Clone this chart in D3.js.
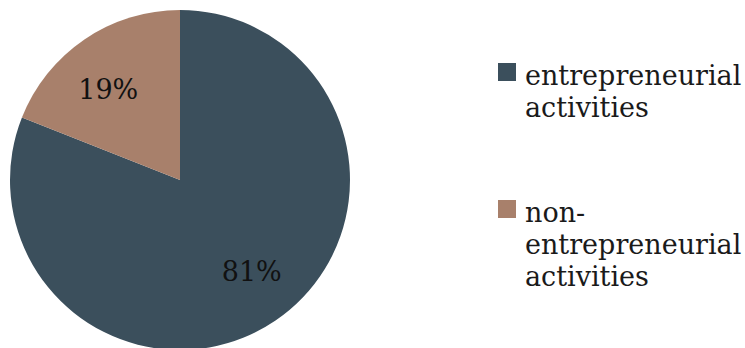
<!DOCTYPE html>
<html>
<head>
<meta charset="utf-8">
<script src="https://cdn.jsdelivr.net/npm/d3@7"></script>
<style>
  body { margin: 0; background: #fff; }
  svg { display: block; }
</style>
</head>
<body>
<div id="pie-chart"></div>
<script>
const w = 745;
const h = 348;

const categories = ["entrepreneurial activities", "non-entrepreneurial activities"];
const shares = [81, 19];
const labels = ["81%", "19%"];
// legend text broken over lines like the original
const legendLines = [
  ["entrepreneurial", "activities"],
  ["non-", "entrepreneurial", "activities"],
];
const colors = ["#3b4f5c", "#a8806b"];

const svg = d3
  .select("#pie-chart")
  .append("svg")
  .attr("width", w)
  .attr("height", h);

const cx = 180;
const cy = 180;
const radius = 170;

const pie = d3.pie().sort(null).value((d) => d);
const arcs = pie(shares);

const arc = d3.arc().innerRadius(0).outerRadius(radius);

// labels sit a little before the slice middle, as in the original
const labelPos = function (d) {
  const a = (d.startAngle + d.endAngle) / 2 - 0.07;
  return d3.pointRadial(a, 116);
};

const g = svg.append("g").attr("transform", `translate(${cx},${cy})`);

g.selectAll("path")
  .data(arcs)
  .enter()
  .append("path")
  .attr("d", arc)
  .style("fill", (d, i) => colors[i]);

g.selectAll("text")
  .data(arcs)
  .enter()
  .append("text")
  .text((d, i) => labels[i])
  .attr("transform", (d) => `translate(${labelPos(d)})`)
  .attr("text-anchor", "middle")
  .attr("dy", "0.36em")
  .attr("font-family", "'DejaVu Serif', serif")
  .attr("font-size", "27px")
  .style("fill", "#111");

// legend
const legendY = [63, 200];
const legend = svg
  .selectAll(".legend")
  .data(categories)
  .enter()
  .append("g")
  .attr("class", "legend")
  .attr("transform", (d, i) => `translate(498,${legendY[i]})`);

legend
  .append("rect")
  .attr("width", 18)
  .attr("height", 18)
  .style("fill", (d, i) => colors[i]);

legend
  .append("text")
  .attr("font-family", "'DejaVu Serif', serif")
  .attr("font-size", "27px")
  .style("fill", "#1a1a1a")
  .selectAll("tspan")
  .data((d, i) => legendLines[i])
  .enter()
  .append("tspan")
  .attr("x", 27)
  .attr("y", (d, j) => 22 + j * 32)
  .text((d) => d);
</script>
</body>
</html>
